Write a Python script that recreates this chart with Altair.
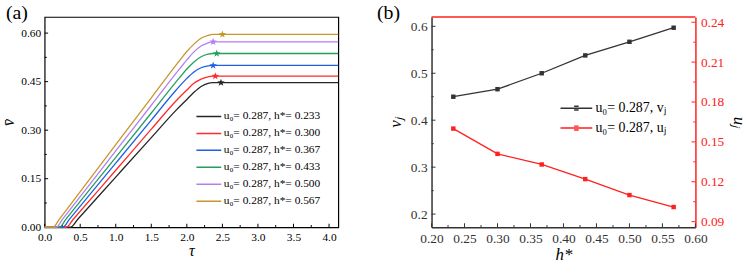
import altair as alt
import pandas as pd

FONT = "Liberation Serif, Times New Roman, serif"
STAR = ("M0,-1L0.235,-0.324L0.951,-0.309L0.380,0.124L0.588,0.809L0,0.4"
        "L-0.588,0.809L-0.380,0.124L-0.951,-0.309L-0.235,-0.324Z")

# ---------------- panel (a) data ----------------
series_a = [
    "u₀= 0.287, h*= 0.233",
    "u₀= 0.287, h*= 0.300",
    "u₀= 0.287, h*= 0.367",
    "u₀= 0.287, h*= 0.433",
    "u₀= 0.287, h*= 0.500",
    "u₀= 0.287, h*= 0.567",
]
colors_a = ["#262626", "#ff2a2a", "#1f5fe8", "#22a05a", "#b47ef0", "#c8962a"]

tau_233 = [0, 0.365, 0.46, 1.0, 1.5, 1.85, 2.0, 2.1, 2.2, 2.3, 2.36, 4.13]
v_233 = [0, 0, 0.023, 0.155, 0.277, 0.362, 0.395, 0.417, 0.435, 0.445, 0.447, 0.447]
tau_300 = [0, 0.304, 0.40, 1.0, 1.5, 1.85, 2.0, 2.1, 2.2, 2.3, 2.36, 4.13]
v_300 = [0, 0, 0.024, 0.176, 0.303, 0.391, 0.424, 0.445, 0.458, 0.465, 0.467, 0.467]
tau_367 = [0, 0.257, 0.35, 1.0, 1.5, 1.85, 2.0, 2.1, 2.2, 2.3, 2.36, 4.13]
v_367 = [0, 0, 0.025, 0.198, 0.331, 0.424, 0.460, 0.480, 0.493, 0.499, 0.500, 0.500]
tau_433 = [0, 0.21, 0.30, 1.0, 1.5, 1.9, 2.0, 2.1, 2.2, 2.3, 2.36, 4.13]
v_433 = [0, 0, 0.025, 0.216, 0.353, 0.463, 0.489, 0.511, 0.527, 0.535, 0.537, 0.537]
tau_500 = [0, 0.164, 0.25, 1.0, 1.5, 1.9, 2.0, 2.1, 2.2, 2.3, 2.36, 4.13]
v_500 = [0, 0, 0.024, 0.236, 0.377, 0.490, 0.517, 0.542, 0.560, 0.570, 0.573, 0.573]
tau_567 = [0, 0.12, 0.20, 1.0, 1.5, 1.9, 2.0, 2.1, 2.2, 2.3, 2.36, 4.13]
v_567 = [0, 0, 0.023, 0.255, 0.400, 0.516, 0.543, 0.566, 0.584, 0.593, 0.596, 0.596]

tau_lists = [tau_233, tau_300, tau_367, tau_433, tau_500, tau_567]
v_lists = [v_233, v_300, v_367, v_433, v_500, v_567]

tau_star = [2.48, 2.40, 2.37, 2.42, 2.37, 2.50]
v_star = [0.447, 0.467, 0.500, 0.537, 0.573, 0.596]

x_ticks_a = [0.0, 0.5, 1.0, 1.5, 2.0, 2.5, 3.0, 3.5, 4.0]
x_minor_a = [0.25, 0.75, 1.25, 1.75, 2.25, 2.75, 3.25, 3.75]
y_ticks_a = [0.0, 0.15, 0.30, 0.45, 0.60]
y_minor_a = [0.075, 0.225, 0.375, 0.525]

# ---------------- panel (b) data ----------------
h_star = [0.233, 0.300, 0.367, 0.433, 0.500, 0.567]
v_j = [0.450, 0.466, 0.500, 0.538, 0.567, 0.597]
u_j = [0.160, 0.141, 0.133, 0.122, 0.110, 0.101]
series_b = ["u₀= 0.287, vⱼ", "u₀= 0.287, uⱼ"]
colors_b = ["#333333", "#ff2020"]

x_ticks_b = [0.20, 0.25, 0.30, 0.35, 0.40, 0.45, 0.50, 0.55, 0.60]
x_minor_b = [0.225, 0.275, 0.325, 0.375, 0.425, 0.475, 0.525, 0.575]
yl_ticks_b = [0.2, 0.3, 0.4, 0.5, 0.6]
yl_minor_b = [0.25, 0.35, 0.45, 0.55]
yr_ticks_b = [0.09, 0.12, 0.15, 0.18, 0.21, 0.24]
yr_minor_b = [0.105, 0.135, 0.165, 0.195, 0.225]

# ---------------- tables ----------------
rows = []
for name, ts, vs in zip(series_a, tau_lists, v_lists):
    for t, v in zip(ts, vs):
        rows.append({"s": name, "tau": t, "v": v})
df_a = pd.DataFrame(rows)
df_star = pd.DataFrame({"s": series_a, "tau": tau_star, "v": v_star})
df_vj = pd.DataFrame({"h": h_star, "val": v_j, "sb": series_b[0]})
df_uj = pd.DataFrame({"h": h_star, "val": u_j, "sb": series_b[1]})

WA, HA = 296, 212
WB, HB = 266, 212

# ---------------- panel (a) ----------------
xa = alt.Scale(domain=[0, 4.13], nice=False, zero=False)
ya = alt.Scale(domain=[0, 0.65], nice=False, zero=False)
x_axis_a = alt.Axis(values=x_ticks_a, format=".1f", ticks=False, tickSize=0, domain=False,
                    grid=False, labelFont=FONT, labelFontSize=11.5, labelColor="black",
                    labelPadding=4, labelFlush=False, labelOverlap=False,
                    title="τ", titleFont=FONT, titleFontSize=16, titleFontStyle="italic",
                    titleFontWeight="normal", titleColor="black", titlePadding=0)
y_axis_a = alt.Axis(values=y_ticks_a, format=".2f", ticks=False, tickSize=0, domain=False,
                    grid=False, labelFont=FONT, labelFontSize=11.5, labelColor="black",
                    labelPadding=4, labelOverlap=False,
                    title="v̄", titleFont=FONT, titleFontSize=16, titleFontStyle="italic",
                    titleFontWeight="normal", titleColor="black", titlePadding=4)
color_a = alt.Scale(domain=series_a, range=colors_a)
legend_a = alt.Legend(title=None, orient="none", legendX=152, legendY=94.3, padding=0,
                      symbolType="stroke", symbolSize=625, symbolStrokeWidth=1.5,
                      clipHeight=12, rowPadding=5.1, labelOffset=1.5,
                      labelFont=FONT, labelFontSize=11.5, labelColor="black")

lines_a = alt.Chart(df_a).mark_line(interpolate="monotone", strokeWidth=1.3).encode(
    x=alt.X("tau:Q", scale=xa, axis=x_axis_a),
    y=alt.Y("v:Q", scale=ya, axis=y_axis_a),
    color=alt.Color("s:N", scale=color_a, legend=legend_a),
)
stars_a = alt.Chart(df_star).mark_point(shape=STAR, filled=True, size=64, opacity=1).encode(
    x=alt.X("tau:Q", scale=xa, axis=x_axis_a),
    y=alt.Y("v:Q", scale=ya, axis=y_axis_a),
    color=alt.Color("s:N", scale=color_a, legend=legend_a),
)
xt_a = alt.Chart(pd.DataFrame({"t": x_ticks_a})).mark_rule(color="black", strokeWidth=1).encode(
    x=alt.X("t:Q", scale=xa, axis=x_axis_a), y=alt.value(HA), y2=alt.value(HA - 3.5))
xm_a = alt.Chart(pd.DataFrame({"t": x_minor_a})).mark_rule(color="black", strokeWidth=1).encode(
    x=alt.X("t:Q", scale=xa, axis=x_axis_a), y=alt.value(HA), y2=alt.value(HA - 2.2))
yt_a = alt.Chart(pd.DataFrame({"t": y_ticks_a})).mark_rule(color="black", strokeWidth=1).encode(
    y=alt.Y("t:Q", scale=ya, axis=y_axis_a), x=alt.value(0), x2=alt.value(3.5))
ym_a = alt.Chart(pd.DataFrame({"t": y_minor_a})).mark_rule(color="black", strokeWidth=1).encode(
    y=alt.Y("t:Q", scale=ya, axis=y_axis_a), x=alt.value(0), x2=alt.value(2.2))
lab_a = alt.Chart(pd.DataFrame({"lab": ["(a)"]})).mark_text(
    font=FONT, fontSize=20, align="left", baseline="top", color="black").encode(
    text="lab:N", x=alt.value(-39), y=alt.value(-14))

panel_a = alt.layer(xt_a, xm_a, yt_a, ym_a, lines_a, stars_a, lab_a).properties(
    width=WA, height=HA, view=alt.ViewBackground(stroke="black", strokeWidth=1.2))

# ---------------- panel (b) ----------------
xb = alt.Scale(domain=[0.2, 0.6], nice=False, zero=False)
ybl = alt.Scale(domain=[0.172, 0.62], nice=False, zero=False)
ybr = alt.Scale(domain=[0.0858, 0.244], nice=False, zero=False)
x_axis_b = alt.Axis(values=x_ticks_b, format=".2f", ticks=False, tickSize=0, domain=True,
                    domainColor="#333333", domainWidth=1.5, grid=False, labelFont=FONT,
                    labelFontSize=13.5, labelColor="#333333", labelPadding=4, labelFlush=False,
                    labelOverlap=False, title="h*", titleFont=FONT, titleFontSize=17,
                    titleFontStyle="italic", titleFontWeight="normal", titleColor="black",
                    titlePadding=2)
yl_axis_b = alt.Axis(orient="left", values=yl_ticks_b, format=".1f", ticks=False, tickSize=0,
                     domain=True, domainColor="#333333", domainWidth=1.5, grid=False,
                     labelFont=FONT, labelFontSize=13.5, labelColor="#333333", labelPadding=4.5,
                     labelOverlap=False, title="vⱼ", titleFont=FONT, titleFontSize=17,
                     titleFontStyle="italic", titleFontWeight="normal", titleColor="black",
                     titlePadding=6)
yr_axis_b = alt.Axis(orient="right", values=yr_ticks_b, format=".2f", ticks=False, tickSize=0,
                     domain=True, domainColor="#ff2020", domainWidth=1.5, grid=False,
                     labelFont=FONT, labelFontSize=13.5, labelColor="#ff2020", labelPadding=5,
                     labelOverlap=False, title="uⱼ", titleFont=FONT, titleFontSize=17,
                     titleFontStyle="italic", titleFontWeight="normal", titleColor="black",
                     titlePadding=6)
color_b = alt.Scale(domain=series_b, range=colors_b)
legend_b = alt.Legend(title=None, orient="none", legendX=129, legendY=85, padding=0,
                      symbolType="M-1,0H1M-0.14,-0.12H0.14M-0.14,0H0.14M-0.14,0.12H0.14",
                      symbolSize=1024, symbolStrokeWidth=1.5,
                      clipHeight=14, rowPadding=6, labelOffset=2.2,
                      labelFont=FONT, labelFontSize=14, labelColor="black")

pt = alt.OverlayMarkDef(shape="square", filled=True, size=20, opacity=1)
line_v = alt.Chart(df_vj).mark_line(strokeWidth=1.3, point=pt).encode(
    x=alt.X("h:Q", scale=xb, axis=x_axis_b),
    y=alt.Y("val:Q", scale=ybl, axis=yl_axis_b),
    color=alt.Color("sb:N", scale=color_b, legend=legend_b),
)
xt_b = alt.Chart(pd.DataFrame({"t": x_ticks_b})).mark_rule(color="#333333", strokeWidth=1).encode(
    x=alt.X("t:Q", scale=xb, axis=x_axis_b), y=alt.value(HB), y2=alt.value(HB - 4))
xm_b = alt.Chart(pd.DataFrame({"t": x_minor_b})).mark_rule(color="#333333", strokeWidth=1).encode(
    x=alt.X("t:Q", scale=xb, axis=x_axis_b), y=alt.value(HB), y2=alt.value(HB - 2.2))
ylt_b = alt.Chart(pd.DataFrame({"t": yl_ticks_b})).mark_rule(color="#333333", strokeWidth=1).encode(
    y=alt.Y("t:Q", scale=ybl, axis=yl_axis_b), x=alt.value(0), x2=alt.value(4))
ylm_b = alt.Chart(pd.DataFrame({"t": yl_minor_b})).mark_rule(color="#333333", strokeWidth=1).encode(
    y=alt.Y("t:Q", scale=ybl, axis=yl_axis_b), x=alt.value(0), x2=alt.value(2.2))
top_b = alt.Chart(pd.DataFrame({"t": [0]})).mark_rule(color="#ff2020", strokeWidth=1.5).encode(
    x=alt.value(0), x2=alt.value(WB), y=alt.value(0))
lab_b = alt.Chart(pd.DataFrame({"lab": ["(b)"]})).mark_text(
    font=FONT, fontSize=20, align="left", baseline="top", color="black").encode(
    text="lab:N", x=alt.value(-55), y=alt.value(-14))
left_grp = alt.layer(xt_b, xm_b, ylt_b, ylm_b, top_b, line_v, lab_b)

line_u = alt.Chart(df_uj).mark_line(strokeWidth=1.3, point=pt).encode(
    x=alt.X("h:Q", scale=xb, axis=x_axis_b),
    y=alt.Y("val:Q", scale=ybr, axis=yr_axis_b),
    color=alt.Color("sb:N", scale=color_b, legend=legend_b),
)
yrt_b = alt.Chart(pd.DataFrame({"t": yr_ticks_b})).mark_rule(color="#ff2020", strokeWidth=1).encode(
    y=alt.Y("t:Q", scale=ybr, axis=yr_axis_b), x=alt.value(WB), x2=alt.value(WB - 4))
yrm_b = alt.Chart(pd.DataFrame({"t": yr_minor_b})).mark_rule(color="#ff2020", strokeWidth=1).encode(
    y=alt.Y("t:Q", scale=ybr, axis=yr_axis_b), x=alt.value(WB), x2=alt.value(WB - 2.2))
right_grp = alt.layer(yrt_b, yrm_b, line_u)

panel_b = alt.layer(left_grp, right_grp).resolve_scale(y="independent").properties(
    width=WB, height=HB)

chart = alt.hconcat(panel_a, panel_b, spacing=35).resolve_scale(
    color="independent").resolve_legend(color="independent").properties(
    padding={"left": 0, "top": 1, "right": 0, "bottom": 0}
).configure(font=FONT, background="white").configure_view(strokeWidth=0)

chart.save("out.html", embed_options={"renderer": "svg", "actions": False})
